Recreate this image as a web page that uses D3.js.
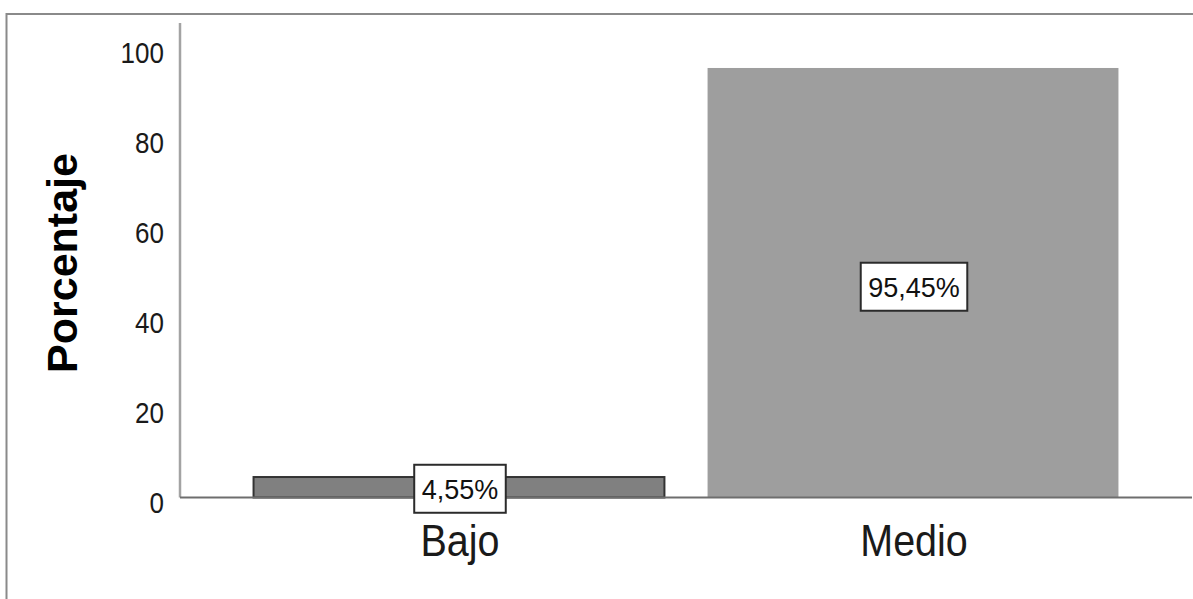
<!DOCTYPE html>
<html>
<head>
<meta charset="utf-8">
<script src="https://cdn.jsdelivr.net/npm/d3@7/dist/d3.min.js"></script>
<style>
  html, body { margin: 0; padding: 0; background: #ffffff; }
  svg { display: block; font-family: "Liberation Sans", Arial, sans-serif; }
</style>
</head>
<body>
<svg id="chart" width="1193" height="599"></svg>
<script>
const categories = ["Bajo", "Medio"];
const values = [4.55, 95.45];
const valueLabels = ["4,55%", "95,45%"];
const yTicks = [0, 20, 40, 60, 80, 100];
const yTitle = "Porcentaje";

const svg = d3.select("#chart");
const W = 1193, H = 599;
const x0 = 180, x1 = 1192, yBase = 497.5, yTop = 47.5;

// frame
svg.append("path")
  .attr("d", `M6.5,${H} V14 H${W}`)
  .attr("fill", "none").attr("stroke", "#8a8a8a").attr("stroke-width", 2);

const x = d3.scaleBand().domain(categories).range([x0, x1])
  .paddingInner(0.095).paddingOuter(0.162);
const y = d3.scaleLinear().domain([0, 100]).range([yBase, yTop]);

// y axis
const yAxis = svg.append("g").attr("transform", `translate(${x0},0)`)
  .call(d3.axisLeft(y).tickValues(yTicks).tickSize(0).tickPadding(16).tickFormat(d3.format("d")));
yAxis.select(".domain").remove();
yAxis.selectAll("text")
  .attr("font-size", 26).attr("fill", "#1a1a1a")
  .attr("font-family", "'Liberation Sans', Arial, sans-serif")
  .attr("dy", 13.4).attr("transform", "scale(1,1.1)");
svg.append("line").attr("x1", x0).attr("x2", x0).attr("y1", 23).attr("y2", yBase)
  .attr("stroke", "#a3a3a3").attr("stroke-width", 2.5);

// bars
const fills = ["#808080", "#9e9e9e"];
const strokes = ["#333333", "none"];
svg.selectAll("rect.bar").data(categories).join("rect")
  .attr("class", "bar")
  .attr("x", d => x(d)).attr("width", x.bandwidth())
  .attr("y", (d, i) => y(values[i])).attr("height", (d, i) => yBase - y(values[i]))
  .attr("fill", (d, i) => fills[i]).attr("stroke", (d, i) => strokes[i]).attr("stroke-width", 2);

// x axis line
svg.append("line").attr("x1", x0).attr("x2", x1).attr("y1", yBase).attr("y2", yBase)
  .attr("stroke", "#6e6e6e").attr("stroke-width", 2);

// value labels
const lbl = svg.selectAll("g.vlab").data(categories).join("g").attr("class", "vlab")
  .attr("transform", (d, i) => `translate(${x(d) + x.bandwidth() / 2 + 1},${(y(values[i]) + yBase) / 2 + (i === 0 ? 1.5 : 4)})`);
lbl.each(function(d, i) {
  const g = d3.select(this);
  const t = g.append("text").text(valueLabels[i])
    .attr("font-size", 27).attr("text-anchor", "middle").attr("fill", "#111")
    .attr("transform", "scale(1,1.05)").attr("dy", 9.3);
  const bb = t.node().getBBox();
  const w = bb.width + 15, h = 48;
  g.insert("rect", "text").attr("x", -w / 2).attr("y", -h / 2).attr("width", w).attr("height", h)
    .attr("fill", "#ffffff").attr("stroke", "#2b2b2b").attr("stroke-width", 2);
});

// category labels
svg.selectAll("text.cat").data(categories).join("text").attr("class", "cat")
  .attr("transform", d => `translate(${x(d) + x.bandwidth() / 2 + 1},556) scale(1,1.1)`)
  .attr("text-anchor", "middle").attr("font-size", 39.5).attr("fill", "#1a1a1a")
  .text(d => d);

// y title
svg.append("text")
  .attr("transform", "translate(77,263) rotate(-90)")
  .attr("text-anchor", "middle").attr("font-size", 43).attr("font-weight", "bold").attr("fill", "#000")
  .text(yTitle);
</script>
</body>
</html>
